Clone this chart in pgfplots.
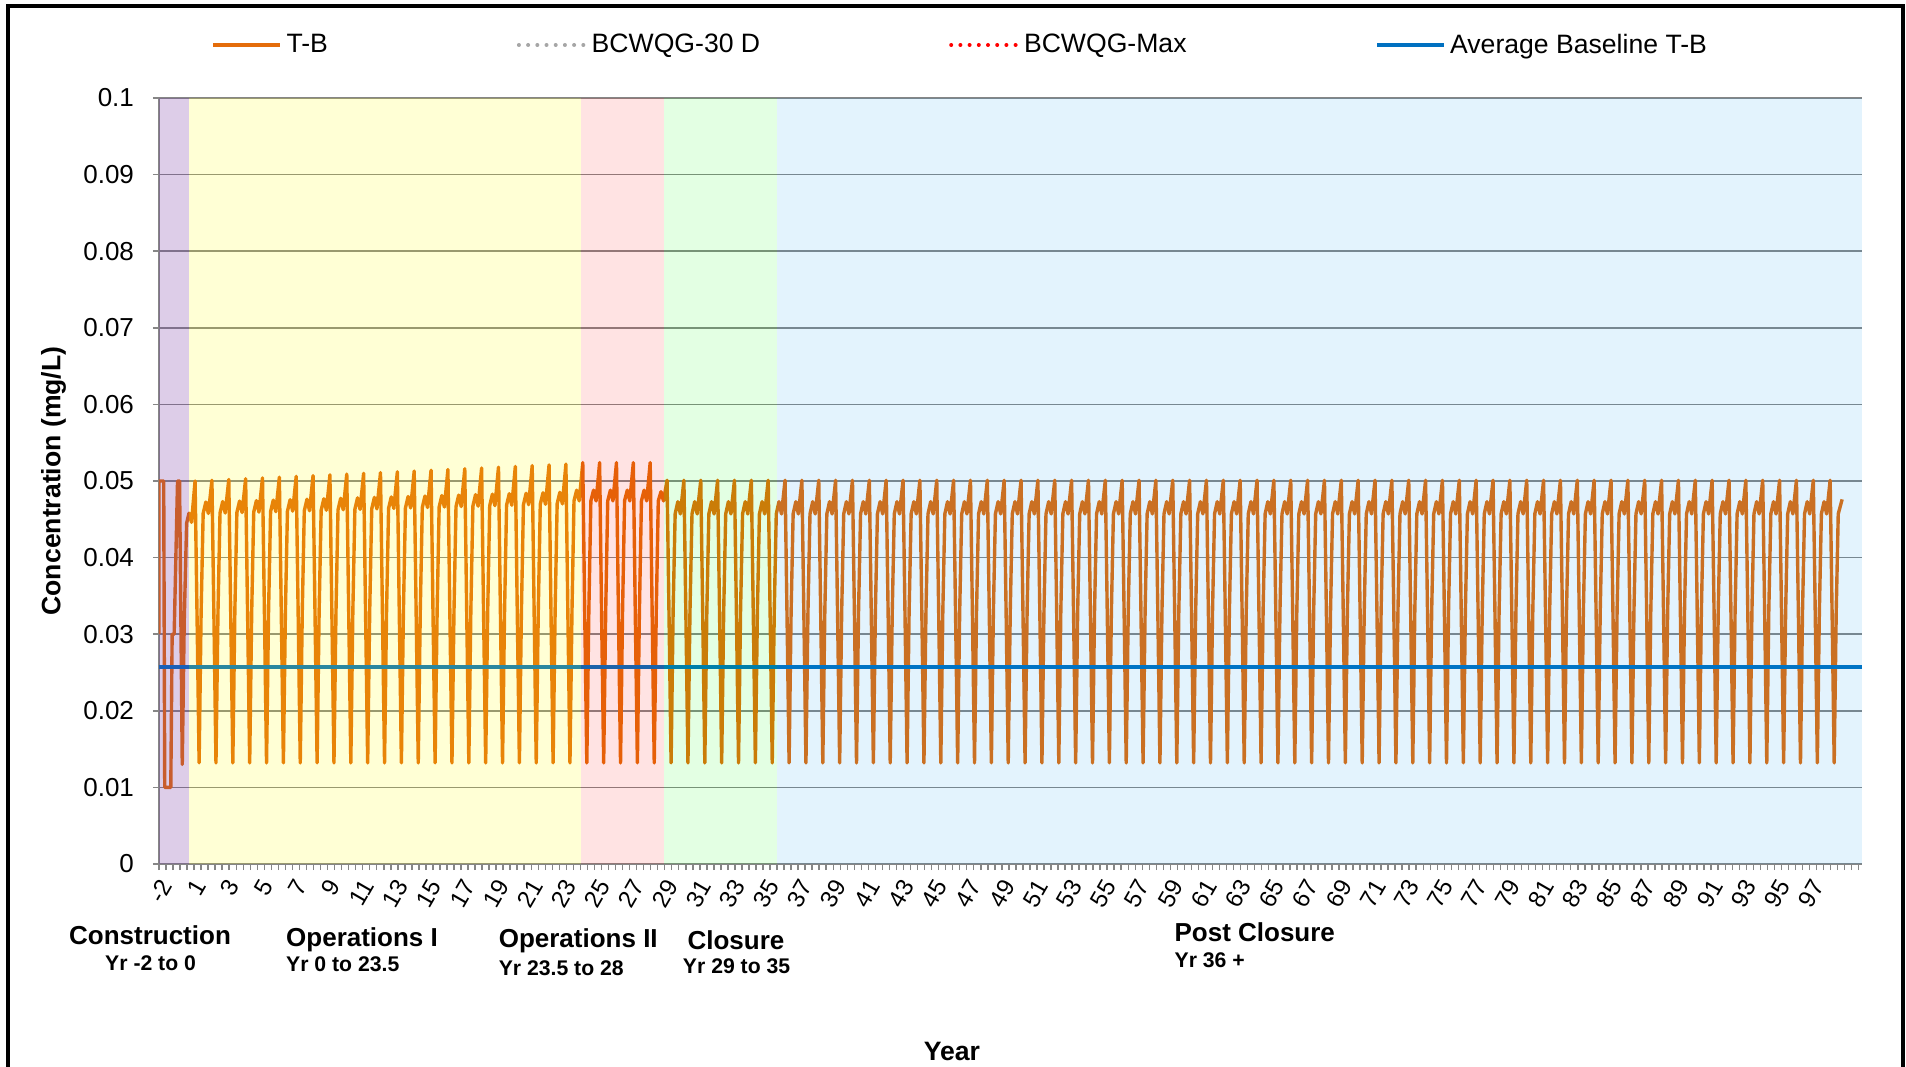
\documentclass[border=0pt]{standalone}
\usepackage{fontspec}
\setmainfont{Liberation Sans}
\usepackage{pgfplots}
\pgfplotsset{compat=1.18}

\definecolor{tbor}{HTML}{E46C0A}
\definecolor{avgblue}{HTML}{0070C0}
\definecolor{gridg}{HTML}{868686}
\definecolor{wqgray}{HTML}{A6A6A6}
\definecolor{phpurple}{HTML}{7030A0}
\definecolor{phyellow}{HTML}{FFFF00}
\definecolor{phpink}{HTML}{FF0000}
\definecolor{phgreen}{HTML}{00FF00}
\definecolor{phblue}{HTML}{0096F0}

\newcommand{\tickfont}{\fontsize{13}{15}\selectfont}
\newcommand{\xtfont}{\fontsize{12}{14}\selectfont}
\newcommand{\legfont}{\fontsize{13.3}{16}\selectfont}
\newcommand{\phasefont}{\fontsize{13}{15}\selectfont\bfseries}
\newcommand{\subfont}{\fontsize{10.6}{12}\selectfont\bfseries}

\begin{document}
\begin{tikzpicture}
\useasboundingbox (-79.5pt,-101pt) rectangle (873.5pt,432pt);
\draw[line width=2pt] (-75.5pt,-120pt) -- (-75.5pt,429pt) -- (871.75pt,429pt) -- (871.75pt,-120pt);
\begin{axis}[
  scale only axis,
  width=851.5pt, height=383pt,
  xmin=-2, xmax=99.03, ymin=0, ymax=0.1,
  axis x line*=bottom, axis y line*=left,
  axis line style={draw=gridg, line width=1pt, -},
  ytick={0,0.01,0.02,0.03,0.04,0.05,0.06,0.07,0.08,0.09,0.1},
  ymajorgrids,
  grid style={draw=gridg, line width=0.8pt},
  tick align=outside,
  major tick length=3pt, minor tick length=3pt,
  tick style={draw=gridg, line width=0.75pt},
  major x tick style={draw=none},
  xtick={-2,0,...,96},
  xticklabels={-2,1,3,5,7,9,11,13,15,17,19,21,23,25,27,29,31,33,35,37,39,41,43,45,47,49,51,53,55,57,59,61,63,65,67,69,71,73,75,77,79,81,83,85,87,89,91,93,95,97},
  minor xtick={-2,-1.58333,...,99},
  scaled y ticks=false,
  /pgf/number format/assume math mode=true,
  yticklabel style={/pgf/number format/fixed, /pgf/number format/precision=2, font=\tickfont, xshift=-6pt},
  xticklabel style={rotate=60, anchor=east, font=\xtfont, yshift=-6pt},
  ylabel={Concentration (mg/L)},
  ylabel style={font=\legfont\bfseries, at={(axis description cs:-0.06195,0.5)}, anchor=center},
  xlabel={Year},
  xlabel style={font=\legfont\bfseries, at={(axis description cs:0.4656,-0.2560)}, anchor=base},
  legend columns=4,
  legend cell align=left,
  legend image code/.code={\draw[#1] (0pt,0pt) -- (33.4pt,0pt);},
  legend style={draw=none, fill=none, inner sep=0pt, font=\legfont,
    at={(axis description cs:0.0305,1.0692)}, anchor=west,
    /tikz/every even column/.append style={column sep=92.5pt}},
]
% T-B concentration
\addplot[tbor, line width=1.7pt, line join=round] coordinates {
(-2,0.0300) (-2,0.0500) (-1.72,0.0500) (-1.66,0.0100) (-1.30,0.0100) (-1.22,0.0300) (-1.10,0.0300) (-0.90,0.0500) (-0.78,0.0500)
(-0.62,0.0130) (-0.50,0.032) (-0.36,0.0445) (-0.22,0.0458) (-0.07,0.0446) (0.14,0.0500) (0.26,0.032)
(0.38,0.0132) (0.50,0.033) (0.62,0.04576) (0.78,0.04726) (0.93,0.04576) (1.14,0.0501) (1.26,0.032)
(1.38,0.0132) (1.50,0.033) (1.62,0.04582) (1.78,0.04732) (1.93,0.04582) (2.14,0.0502) (2.26,0.032)
(2.38,0.0132) (2.50,0.033) (2.62,0.04588) (2.78,0.04738) (2.93,0.04588) (3.14,0.0503) (3.26,0.032)
(3.38,0.0132) (3.50,0.033) (3.62,0.04594) (3.78,0.04744) (3.93,0.04594) (4.14,0.0504) (4.26,0.032)
(4.38,0.0132) (4.50,0.033) (4.62,0.04600) (4.78,0.04750) (4.93,0.04600) (5.14,0.0505) (5.26,0.032)
(5.38,0.0132) (5.50,0.033) (5.62,0.04606) (5.78,0.04756) (5.93,0.04606) (6.14,0.0506) (6.26,0.032)
(6.38,0.0132) (6.50,0.033) (6.62,0.04612) (6.78,0.04762) (6.93,0.04612) (7.14,0.0507) (7.26,0.032)
(7.38,0.0132) (7.50,0.033) (7.62,0.04618) (7.78,0.04768) (7.93,0.04618) (8.14,0.0508) (8.26,0.032)
(8.38,0.0132) (8.50,0.033) (8.62,0.04624) (8.78,0.04774) (8.93,0.04624) (9.14,0.0509) (9.26,0.032)
(9.38,0.0132) (9.50,0.033) (9.62,0.04630) (9.78,0.04780) (9.93,0.04630) (10.14,0.0510) (10.26,0.032)
(10.38,0.0132) (10.50,0.033) (10.62,0.04636) (10.78,0.04786) (10.93,0.04636) (11.14,0.0511) (11.26,0.032)
(11.38,0.0132) (11.50,0.033) (11.62,0.04642) (11.78,0.04792) (11.93,0.04642) (12.14,0.0512) (12.26,0.032)
(12.38,0.0132) (12.50,0.033) (12.62,0.04648) (12.78,0.04798) (12.93,0.04648) (13.14,0.0513) (13.26,0.032)
(13.38,0.0132) (13.50,0.033) (13.62,0.04654) (13.78,0.04804) (13.93,0.04654) (14.14,0.0514) (14.26,0.032)
(14.38,0.0132) (14.50,0.033) (14.62,0.04660) (14.78,0.04810) (14.93,0.04660) (15.14,0.0515) (15.26,0.032)
(15.38,0.0132) (15.50,0.033) (15.62,0.04666) (15.78,0.04816) (15.93,0.04666) (16.14,0.0516) (16.26,0.032)
(16.38,0.0132) (16.50,0.033) (16.62,0.04672) (16.78,0.04822) (16.93,0.04672) (17.14,0.0517) (17.26,0.032)
(17.38,0.0132) (17.50,0.033) (17.62,0.04678) (17.78,0.04828) (17.93,0.04678) (18.14,0.0518) (18.26,0.032)
(18.38,0.0132) (18.50,0.033) (18.62,0.04684) (18.78,0.04834) (18.93,0.04684) (19.14,0.0519) (19.26,0.032)
(19.38,0.0132) (19.50,0.033) (19.62,0.04690) (19.78,0.04840) (19.93,0.04690) (20.14,0.0520) (20.26,0.032)
(20.38,0.0132) (20.50,0.033) (20.62,0.04696) (20.78,0.04846) (20.93,0.04696) (21.14,0.0521) (21.26,0.032)
(21.38,0.0132) (21.50,0.033) (21.62,0.04702) (21.78,0.04852) (21.93,0.04702) (22.14,0.0522) (22.26,0.032)
(22.38,0.0132) (22.50,0.033) (22.62,0.0474) (22.78,0.0488) (22.93,0.0474) (23.14,0.0524) (23.26,0.032)
(23.38,0.0132) (23.50,0.033) (23.62,0.0474) (23.78,0.0488) (23.93,0.0474) (24.14,0.0524) (24.26,0.032)
(24.38,0.0132) (24.50,0.033) (24.62,0.0474) (24.78,0.0488) (24.93,0.0474) (25.14,0.0524) (25.26,0.032)
(25.38,0.0132) (25.50,0.033) (25.62,0.0474) (25.78,0.0488) (25.93,0.0474) (26.14,0.0524) (26.26,0.032)
(26.38,0.0132) (26.50,0.033) (26.62,0.0474) (26.78,0.0488) (26.93,0.0474) (27.14,0.0524) (27.26,0.032)
(27.38,0.0132) (27.50,0.033) (27.62,0.0474) (27.78,0.0486) (27.93,0.0474) (28.14,0.0501) (28.26,0.032)
(28.38,0.0132) (28.50,0.033) (28.62,0.0457) (28.78,0.0473) (28.93,0.0457) (29.14,0.0501) (29.26,0.032)
(29.38,0.0132) (29.50,0.033) (29.62,0.0457) (29.78,0.0473) (29.93,0.0457) (30.14,0.0501) (30.26,0.032)
(30.38,0.0132) (30.50,0.033) (30.62,0.0457) (30.78,0.0473) (30.93,0.0457) (31.14,0.0501) (31.26,0.032)
(31.38,0.0132) (31.50,0.033) (31.62,0.0457) (31.78,0.0473) (31.93,0.0457) (32.14,0.0501) (32.26,0.032)
(32.38,0.0132) (32.50,0.033) (32.62,0.0457) (32.78,0.0473) (32.93,0.0457) (33.14,0.0501) (33.26,0.032)
(33.38,0.0132) (33.50,0.033) (33.62,0.0457) (33.78,0.0473) (33.93,0.0457) (34.14,0.0501) (34.26,0.032)
(34.38,0.0132) (34.50,0.033) (34.62,0.0457) (34.78,0.0473) (34.93,0.0457) (35.14,0.0501) (35.26,0.032)
(35.38,0.0132) (35.50,0.033) (35.62,0.0457) (35.78,0.0473) (35.93,0.0457) (36.14,0.0501) (36.26,0.032)
(36.38,0.0132) (36.50,0.033) (36.62,0.0457) (36.78,0.0473) (36.93,0.0457) (37.14,0.0501) (37.26,0.032)
(37.38,0.0132) (37.50,0.033) (37.62,0.0457) (37.78,0.0473) (37.93,0.0457) (38.14,0.0501) (38.26,0.032)
(38.38,0.0132) (38.50,0.033) (38.62,0.0457) (38.78,0.0473) (38.93,0.0457) (39.14,0.0501) (39.26,0.032)
(39.38,0.0132) (39.50,0.033) (39.62,0.0457) (39.78,0.0473) (39.93,0.0457) (40.14,0.0501) (40.26,0.032)
(40.38,0.0132) (40.50,0.033) (40.62,0.0457) (40.78,0.0473) (40.93,0.0457) (41.14,0.0501) (41.26,0.032)
(41.38,0.0132) (41.50,0.033) (41.62,0.0457) (41.78,0.0473) (41.93,0.0457) (42.14,0.0501) (42.26,0.032)
(42.38,0.0132) (42.50,0.033) (42.62,0.0457) (42.78,0.0473) (42.93,0.0457) (43.14,0.0501) (43.26,0.032)
(43.38,0.0132) (43.50,0.033) (43.62,0.0457) (43.78,0.0473) (43.93,0.0457) (44.14,0.0501) (44.26,0.032)
(44.38,0.0132) (44.50,0.033) (44.62,0.0457) (44.78,0.0473) (44.93,0.0457) (45.14,0.0501) (45.26,0.032)
(45.38,0.0132) (45.50,0.033) (45.62,0.0457) (45.78,0.0473) (45.93,0.0457) (46.14,0.0501) (46.26,0.032)
(46.38,0.0132) (46.50,0.033) (46.62,0.0457) (46.78,0.0473) (46.93,0.0457) (47.14,0.0501) (47.26,0.032)
(47.38,0.0132) (47.50,0.033) (47.62,0.0457) (47.78,0.0473) (47.93,0.0457) (48.14,0.0501) (48.26,0.032)
(48.38,0.0132) (48.50,0.033) (48.62,0.0457) (48.78,0.0473) (48.93,0.0457) (49.14,0.0501) (49.26,0.032)
(49.38,0.0132) (49.50,0.033) (49.62,0.0457) (49.78,0.0473) (49.93,0.0457) (50.14,0.0501) (50.26,0.032)
(50.38,0.0132) (50.50,0.033) (50.62,0.0457) (50.78,0.0473) (50.93,0.0457) (51.14,0.0501) (51.26,0.032)
(51.38,0.0132) (51.50,0.033) (51.62,0.0457) (51.78,0.0473) (51.93,0.0457) (52.14,0.0501) (52.26,0.032)
(52.38,0.0132) (52.50,0.033) (52.62,0.0457) (52.78,0.0473) (52.93,0.0457) (53.14,0.0501) (53.26,0.032)
(53.38,0.0132) (53.50,0.033) (53.62,0.0457) (53.78,0.0473) (53.93,0.0457) (54.14,0.0501) (54.26,0.032)
(54.38,0.0132) (54.50,0.033) (54.62,0.0457) (54.78,0.0473) (54.93,0.0457) (55.14,0.0501) (55.26,0.032)
(55.38,0.0132) (55.50,0.033) (55.62,0.0457) (55.78,0.0473) (55.93,0.0457) (56.14,0.0501) (56.26,0.032)
(56.38,0.0132) (56.50,0.033) (56.62,0.0457) (56.78,0.0473) (56.93,0.0457) (57.14,0.0501) (57.26,0.032)
(57.38,0.0132) (57.50,0.033) (57.62,0.0457) (57.78,0.0473) (57.93,0.0457) (58.14,0.0501) (58.26,0.032)
(58.38,0.0132) (58.50,0.033) (58.62,0.0457) (58.78,0.0473) (58.93,0.0457) (59.14,0.0501) (59.26,0.032)
(59.38,0.0132) (59.50,0.033) (59.62,0.0457) (59.78,0.0473) (59.93,0.0457) (60.14,0.0501) (60.26,0.032)
(60.38,0.0132) (60.50,0.033) (60.62,0.0457) (60.78,0.0473) (60.93,0.0457) (61.14,0.0501) (61.26,0.032)
(61.38,0.0132) (61.50,0.033) (61.62,0.0457) (61.78,0.0473) (61.93,0.0457) (62.14,0.0501) (62.26,0.032)
(62.38,0.0132) (62.50,0.033) (62.62,0.0457) (62.78,0.0473) (62.93,0.0457) (63.14,0.0501) (63.26,0.032)
(63.38,0.0132) (63.50,0.033) (63.62,0.0457) (63.78,0.0473) (63.93,0.0457) (64.14,0.0501) (64.26,0.032)
(64.38,0.0132) (64.50,0.033) (64.62,0.0457) (64.78,0.0473) (64.93,0.0457) (65.14,0.0501) (65.26,0.032)
(65.38,0.0132) (65.50,0.033) (65.62,0.0457) (65.78,0.0473) (65.93,0.0457) (66.14,0.0501) (66.26,0.032)
(66.38,0.0132) (66.50,0.033) (66.62,0.0457) (66.78,0.0473) (66.93,0.0457) (67.14,0.0501) (67.26,0.032)
(67.38,0.0132) (67.50,0.033) (67.62,0.0457) (67.78,0.0473) (67.93,0.0457) (68.14,0.0501) (68.26,0.032)
(68.38,0.0132) (68.50,0.033) (68.62,0.0457) (68.78,0.0473) (68.93,0.0457) (69.14,0.0501) (69.26,0.032)
(69.38,0.0132) (69.50,0.033) (69.62,0.0457) (69.78,0.0473) (69.93,0.0457) (70.14,0.0501) (70.26,0.032)
(70.38,0.0132) (70.50,0.033) (70.62,0.0457) (70.78,0.0473) (70.93,0.0457) (71.14,0.0501) (71.26,0.032)
(71.38,0.0132) (71.50,0.033) (71.62,0.0457) (71.78,0.0473) (71.93,0.0457) (72.14,0.0501) (72.26,0.032)
(72.38,0.0132) (72.50,0.033) (72.62,0.0457) (72.78,0.0473) (72.93,0.0457) (73.14,0.0501) (73.26,0.032)
(73.38,0.0132) (73.50,0.033) (73.62,0.0457) (73.78,0.0473) (73.93,0.0457) (74.14,0.0501) (74.26,0.032)
(74.38,0.0132) (74.50,0.033) (74.62,0.0457) (74.78,0.0473) (74.93,0.0457) (75.14,0.0501) (75.26,0.032)
(75.38,0.0132) (75.50,0.033) (75.62,0.0457) (75.78,0.0473) (75.93,0.0457) (76.14,0.0501) (76.26,0.032)
(76.38,0.0132) (76.50,0.033) (76.62,0.0457) (76.78,0.0473) (76.93,0.0457) (77.14,0.0501) (77.26,0.032)
(77.38,0.0132) (77.50,0.033) (77.62,0.0457) (77.78,0.0473) (77.93,0.0457) (78.14,0.0501) (78.26,0.032)
(78.38,0.0132) (78.50,0.033) (78.62,0.0457) (78.78,0.0473) (78.93,0.0457) (79.14,0.0501) (79.26,0.032)
(79.38,0.0132) (79.50,0.033) (79.62,0.0457) (79.78,0.0473) (79.93,0.0457) (80.14,0.0501) (80.26,0.032)
(80.38,0.0132) (80.50,0.033) (80.62,0.0457) (80.78,0.0473) (80.93,0.0457) (81.14,0.0501) (81.26,0.032)
(81.38,0.0132) (81.50,0.033) (81.62,0.0457) (81.78,0.0473) (81.93,0.0457) (82.14,0.0501) (82.26,0.032)
(82.38,0.0132) (82.50,0.033) (82.62,0.0457) (82.78,0.0473) (82.93,0.0457) (83.14,0.0501) (83.26,0.032)
(83.38,0.0132) (83.50,0.033) (83.62,0.0457) (83.78,0.0473) (83.93,0.0457) (84.14,0.0501) (84.26,0.032)
(84.38,0.0132) (84.50,0.033) (84.62,0.0457) (84.78,0.0473) (84.93,0.0457) (85.14,0.0501) (85.26,0.032)
(85.38,0.0132) (85.50,0.033) (85.62,0.0457) (85.78,0.0473) (85.93,0.0457) (86.14,0.0501) (86.26,0.032)
(86.38,0.0132) (86.50,0.033) (86.62,0.0457) (86.78,0.0473) (86.93,0.0457) (87.14,0.0501) (87.26,0.032)
(87.38,0.0132) (87.50,0.033) (87.62,0.0457) (87.78,0.0473) (87.93,0.0457) (88.14,0.0501) (88.26,0.032)
(88.38,0.0132) (88.50,0.033) (88.62,0.0457) (88.78,0.0473) (88.93,0.0457) (89.14,0.0501) (89.26,0.032)
(89.38,0.0132) (89.50,0.033) (89.62,0.0457) (89.78,0.0473) (89.93,0.0457) (90.14,0.0501) (90.26,0.032)
(90.38,0.0132) (90.50,0.033) (90.62,0.0457) (90.78,0.0473) (90.93,0.0457) (91.14,0.0501) (91.26,0.032)
(91.38,0.0132) (91.50,0.033) (91.62,0.0457) (91.78,0.0473) (91.93,0.0457) (92.14,0.0501) (92.26,0.032)
(92.38,0.0132) (92.50,0.033) (92.62,0.0457) (92.78,0.0473) (92.93,0.0457) (93.14,0.0501) (93.26,0.032)
(93.38,0.0132) (93.50,0.033) (93.62,0.0457) (93.78,0.0473) (93.93,0.0457) (94.14,0.0501) (94.26,0.032)
(94.38,0.0132) (94.50,0.033) (94.62,0.0457) (94.78,0.0473) (94.93,0.0457) (95.14,0.0501) (95.26,0.032)
(95.38,0.0132) (95.50,0.033) (95.62,0.0457) (95.78,0.0473) (95.93,0.0457) (96.14,0.0501) (96.26,0.032)
(96.38,0.0132) (96.50,0.033) (96.62,0.0457) (96.78,0.0473) (96.93,0.0457) (97.14,0.0501) (97.26,0.032)
(97.38,0.0132) (97.50,0.033) (97.62,0.0457) (97.85,0.0476)
};
\addlegendentry{\hspace*{0.5pt}T-B}
\addlegendimage{wqgray, line width=2pt, line cap=round, dash pattern=on 0pt off 4.6pt}
\addlegendentry{BCWQG-30 D}
\addlegendimage{red, line width=2pt, line cap=round, dash pattern=on 0pt off 4.6pt}
\addlegendentry{BCWQG-Max}
% average baseline
\addplot[avgblue, line width=1.9pt] coordinates {(-2,0.0257) (99.03,0.0257)};
\addlegendentry{Average Baseline T-B}
% project phases (translucent bands over the series)
\addplot[draw=none, fill=phpurple, fill opacity=0.24, forget plot] coordinates {(-2,0) (-2,0.1) (-0.22,0.1) (-0.22,0)};
\addplot[draw=none, fill=phyellow, fill opacity=0.165, forget plot] coordinates {(-0.22,0) (-0.22,0.1) (23.04,0.1) (23.04,0)};
\addplot[draw=none, fill=phpink, fill opacity=0.11, forget plot] coordinates {(23.04,0) (23.04,0.1) (27.96,0.1) (27.96,0)};
\addplot[draw=none, fill=phgreen, fill opacity=0.11, forget plot] coordinates {(27.96,0) (27.96,0.1) (34.66,0.1) (34.66,0)};
\addplot[draw=none, fill=phblue, fill opacity=0.11, forget plot] coordinates {(34.66,0) (34.66,0.1) (99.03,0.1) (99.03,0)};
\end{axis}
\node[font=\phasefont, inner sep=0pt, anchor=base] at (-4.5pt,-40.2pt) {Construction};
\node[font=\subfont, inner sep=0pt, anchor=base] at (-4.2pt,-53.3pt) {Yr -2 to 0};
\node[font=\phasefont, inner sep=0pt, anchor=base west] at (63.4pt,-41.2pt) {Operations I};
\node[font=\subfont, inner sep=0pt, anchor=base west] at (63.4pt,-53.8pt) {Yr 0 to 23.5};
\node[font=\phasefont, inner sep=0pt, anchor=base west] at (169.7pt,-41.7pt) {Operations II};
\node[font=\subfont, inner sep=0pt, anchor=base west] at (169.7pt,-55.6pt) {Yr 23.5 to 28};
\node[font=\phasefont, inner sep=0pt, anchor=base] at (288.5pt,-42.7pt) {Closure};
\node[font=\subfont, inner sep=0pt, anchor=base] at (288.8pt,-54.8pt) {Yr 29 to 35};
\node[font=\phasefont, inner sep=0pt, anchor=base west] at (507.6pt,-38.7pt) {Post Closure};
\node[font=\subfont, inner sep=0pt, anchor=base west] at (507.6pt,-51.8pt) {Yr 36 +};
\end{tikzpicture}
\end{document}
